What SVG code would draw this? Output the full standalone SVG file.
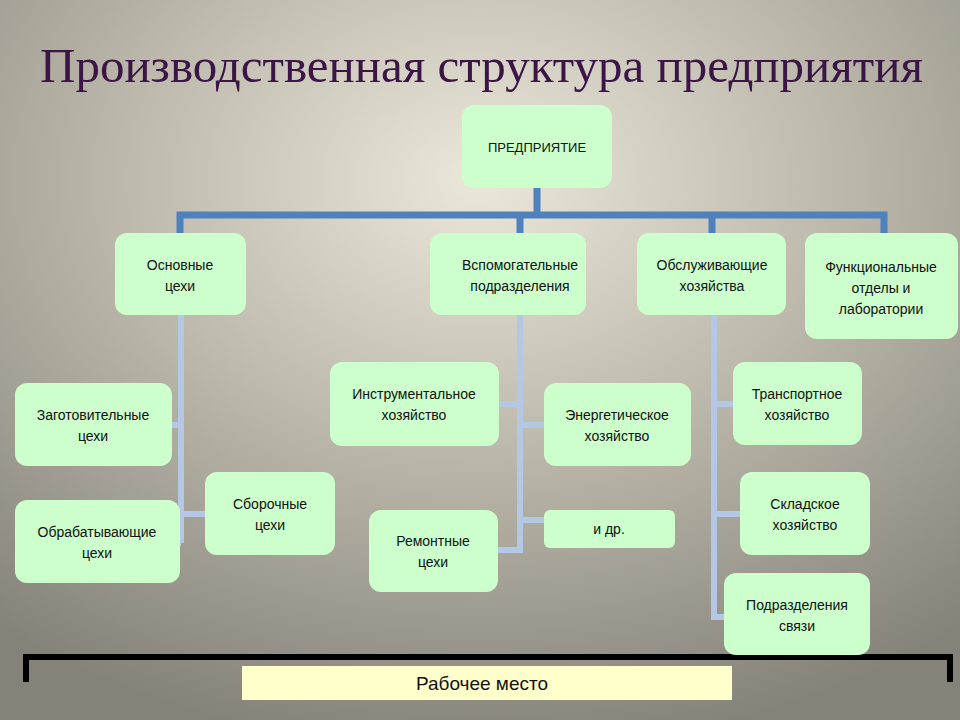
<svg xmlns="http://www.w3.org/2000/svg" width="960" height="720" viewBox="0 0 960 720">
<defs>
<radialGradient id="bg" cx="0.5" cy="0.25" r="0.8">
<stop offset="0" stop-color="#ebe7da"/><stop offset="0.5" stop-color="#b9b5a8"/><stop offset="1" stop-color="#85827a"/>
</radialGradient>
<style>
.n{fill:#ccffcc}
.t{font-family:"Liberation Sans",Arial,sans-serif;font-size:14px;fill:#111;text-anchor:middle}
.b{stroke:#4f81bd;stroke-width:7;fill:none}
.l{stroke:#b4c8e6;stroke-width:6;fill:none}
</style>
</defs>
<rect width="960" height="720" fill="url(#bg)"/>
<text x="40" y="82" font-family="Liberation Serif,serif" font-size="49" fill="#3a1545">Производственная структура предприятия</text>
<g id="connectors">
<path class="b" d="M537 188V215M180 238V215H884V238M520 215V238M712 215V238"/>
<path class="l" d="M181 315V543M172 425H181M180 543H181M181 514H205"/>
<path class="l" d="M520 315V550H498M499 404H520M520 425H544M520 520H544"/>
<path class="l" d="M714 315V617H724M714 404H733M714 514H740"/>
<path stroke="#000" stroke-width="6" fill="none" d="M26 682V657H950V682"/>
</g>
<g id="n0"><rect class="n" x="462" y="105" width="150" height="83" rx="12"/><text class="t" x="537" y="152" style="font-size:13px">ПРЕДПРИЯТИЕ</text></g>
<g id="n1"><rect class="n" x="115" y="233" width="131" height="82" rx="12"/><text class="t" x="180" y="270">Основные</text><text class="t" x="180" y="291">цехи</text></g>
<g id="n2"><rect class="n" x="430" y="233" width="156" height="82" rx="12"/><text class="t" x="520" y="270">Вспомогательные</text><text class="t" x="520" y="291">подразделения</text></g>
<g id="n3"><rect class="n" x="637" y="233" width="149" height="82" rx="12"/><text class="t" x="712" y="270">Обслуживающие</text><text class="t" x="712" y="291">хозяйства</text></g>
<g id="n4"><rect class="n" x="805" y="233" width="153" height="106" rx="12"/><text class="t" x="881" y="272">Функциональные</text><text class="t" x="881" y="293">отделы и</text><text class="t" x="881" y="314">лаборатории</text></g>
<g id="n5"><rect class="n" x="15" y="383" width="157" height="83" rx="12"/><text class="t" x="93" y="420">Заготовительные</text><text class="t" x="93" y="441">цехи</text></g>
<g id="n6"><rect class="n" x="15" y="500" width="165" height="83" rx="12"/><text class="t" x="97" y="537">Обрабатывающие</text><text class="t" x="97" y="558">цехи</text></g>
<g id="n7"><rect class="n" x="205" y="472" width="130" height="83" rx="12"/><text class="t" x="270" y="509">Сборочные</text><text class="t" x="270" y="530">цехи</text></g>
<g id="n8"><rect class="n" x="330" y="362" width="169" height="84" rx="12"/><text class="t" x="414" y="399">Инструментальное</text><text class="t" x="414" y="420">хозяйство</text></g>
<g id="n9"><rect class="n" x="544" y="383" width="147" height="83" rx="12"/><text class="t" x="617" y="420">Энергетическое</text><text class="t" x="617" y="441">хозяйство</text></g>
<g id="n10"><rect class="n" x="369" y="510" width="129" height="82" rx="12"/><text class="t" x="433" y="546">Ремонтные</text><text class="t" x="433" y="567">цехи</text></g>
<g id="n11"><rect class="n" x="544" y="510" width="131" height="38" rx="6"/><text class="t" x="609" y="534">и др.</text></g>
<g id="n12"><rect class="n" x="733" y="362" width="129" height="83" rx="12"/><text class="t" x="797" y="399">Транспортное</text><text class="t" x="797" y="420">хозяйство</text></g>
<g id="n13"><rect class="n" x="740" y="472" width="130" height="83" rx="12"/><text class="t" x="805" y="509">Складское</text><text class="t" x="805" y="530">хозяйство</text></g>
<g id="n14"><rect class="n" x="724" y="573" width="146" height="82" rx="12"/><text class="t" x="797" y="610">Подразделения</text><text class="t" x="797" y="631">связи</text></g>
<g id="n15"><rect fill="#ffffcc" x="242" y="666" width="490" height="34"/><text class="t" x="482" y="690" style="font-size:19px">Рабочее место</text></g>
</svg>
